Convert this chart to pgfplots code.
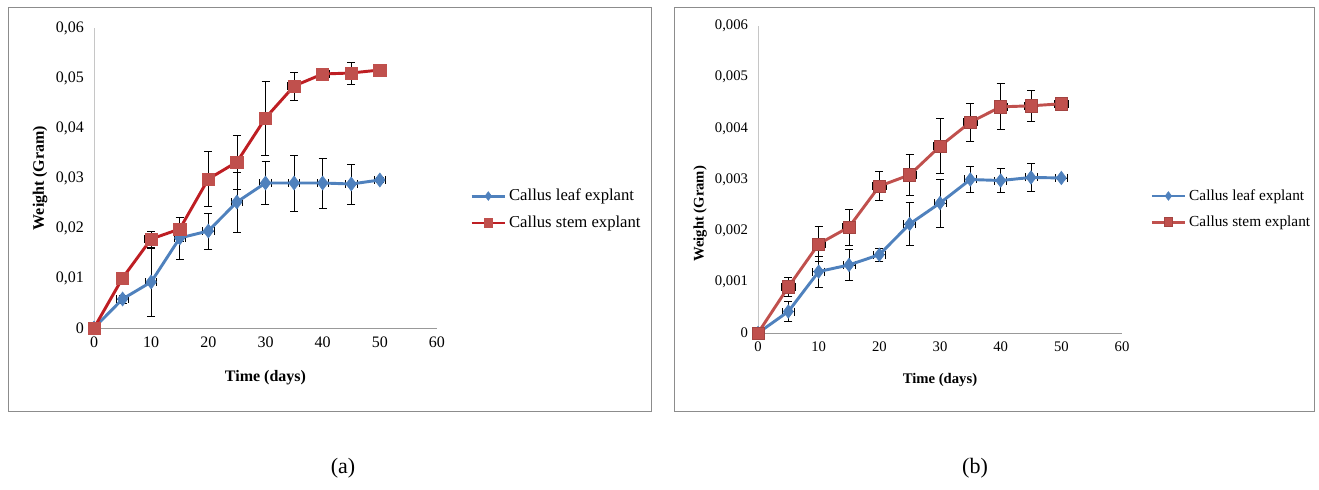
\documentclass[border=0pt]{standalone}
\usepackage{fontspec}
\setmainfont{Liberation Serif}
\usepackage{pgfplots}
\usepackage{pgfplotstable}
\pgfplotsset{compat=1.18}
\definecolor{xlblue}{HTML}{4F81BD}
\definecolor{xlred}{HTML}{C0504D}
\definecolor{xldred}{HTML}{BE1E23}
\definecolor{framegray}{HTML}{8C8C8C}

\pgfplotstableread{
x y ey ex
0 0 0 0
5 0.0058 0.0008 1
10 0.0092 0.0068 1
15 0.0180 0.0042 1
20 0.0194 0.0036 1
25 0.0252 0.0060 1
30 0.0290 0.0043 1
35 0.0290 0.0056 1
40 0.0290 0.0050 1
45 0.0288 0.0040 1
50 0.0296 0.0005 1
}\leafA
\pgfplotstableread{
x y ey ex
0 0 0 0
5 0.0100 0.0004 1.1
10 0.0178 0.0016 1.1
15 0.0198 0.0024 1.1
20 0.0298 0.0055 1.1
25 0.0332 0.0054 1.1
30 0.0420 0.0074 1.1
35 0.0484 0.0028 1.1
40 0.0508 0.0008 1.1
45 0.0510 0.0022 1.1
50 0.0516 0.0004 1.1
}\stemA
\pgfplotstableread{
x y ey ex
0 0 0 0
5 0.00042 0.00020 1
10 0.00120 0.00030 1
15 0.00133 0.00030 1
20 0.00153 0.00013 1
25 0.00213 0.00042 1
30 0.00254 0.00047 1
35 0.00300 0.00025 1
40 0.00298 0.00024 1
45 0.00304 0.00027 1
50 0.00303 0.00003 1
}\leafB
\pgfplotstableread{
x y ey ex
0 0 0 0
5 0.00090 0.00018 1.1
10 0.00174 0.00034 1.1
15 0.00207 0.00035 1.1
20 0.00287 0.00028 1.1
25 0.00309 0.00040 1.1
30 0.00365 0.00054 1.1
35 0.00412 0.00037 1.1
40 0.00442 0.00045 1.1
45 0.00444 0.00030 1.1
50 0.00448 0.00002 1.1
}\stemB

\pgfplotsset{
  xlaxis/.style={
    scale only axis,
    anchor=south west,
    xmin=0, xmax=60, ymin=0,
    scaled y ticks=false,
    scaled x ticks=false,
    xtick={0,10,20,30,40,50,60},
    xticklabels={0,10,20,30,40,50,60},
    axis x line*=bottom,
    axis y line*=left,
    x axis line style={draw=gray!80, line width=0.6pt, -},
    y axis line style={draw=gray!45, line width=0.6pt, -},
    major tick length=0pt,
    tick style={draw=none},
    clip=false,
    legend cell align=left,
    legend style={draw=none, fill=none, inner xsep=0pt, inner ysep=0pt, row sep=6pt, anchor=west},
    legend image code/.code={
      \draw[#1, mark size=3.2pt, mark repeat=2, mark phase=2] plot coordinates {(0pt,0pt) (12.5pt,0pt) (25pt,0pt)};
    },
  },
  ebars/.style={
    draw=none, mark=none, forget plot,
    error bars/.cd,
      y dir=both, y explicit,
      x dir=both, x explicit,
      error bar style={draw=black, line width=0.6pt},
      error mark options={rotate=90, draw=black, line width=0.6pt, mark size=3pt},
  },
}

\begin{document}
\begin{tikzpicture}
\path (0pt,0pt) rectangle (989.25pt,366.75pt);
\draw[framegray, line width=0.75pt] (6pt,58.5pt) rectangle (488.25pt,360.75pt);
\draw[framegray, line width=0.75pt] (505.5pt,58.5pt) rectangle (985.5pt,360.75pt);
\node[font=\fontsize{16.5}{19}\selectfont] at (257.25pt,15.75pt) {(a)};
\node[font=\fontsize{16.5}{19}\selectfont] at (731.25pt,15.75pt) {(b)};

% panel (a)
\begin{axis}[xlaxis,
  at={(70.5pt,120.75pt)},
  width=257.25pt, height=225pt,
  ymax=0.06,
  ytick={0,0.01,0.02,0.03,0.04,0.05,0.06},
  yticklabels={0,{0,01},{0,02},{0,03},{0,04},{0,05},{0,06}},
  tick label style={font=\fontsize{12}{14}\selectfont},
  yticklabel style={xshift=-4pt},
  xticklabel style={yshift=-3pt},
  every axis y label/.style={at={(axis description cs:-0.157,0.5)}, rotate=90, anchor=center, font=\bfseries\fontsize{12}{14}\selectfont},
  every axis x label/.style={at={(axis description cs:0.5,-0.167)}, anchor=center, font=\bfseries\fontsize{12}{14}\selectfont},
  ylabel={Weight (Gram)},
  xlabel={Time (days)},
  legend style={at={(axis description cs:1.096,0.395)}, font=\fontsize{12.5}{14}\selectfont},
]
\addplot[ebars] table[x=x, y=y, y error=ey, x error=ex] {\leafA};
\addplot[ebars] table[x=x, y=y, y error=ey, x error=ex] {\stemA};
\addplot[xlblue, line width=2.2pt, mark=diamond*, mark size=5.2pt,
  mark options={solid, fill=xlblue, draw=xlblue, line width=0.5pt}]
  table[x=x, y=y] {\leafA};
\addlegendentry{Callus leaf explant}
\addplot[xldred, line width=2.2pt, mark=square*, mark size=4.6pt,
  mark options={solid, fill=xlred, draw=xlred, line width=0.5pt}]
  table[x=x, y=y] {\stemA};
\addlegendentry{Callus stem explant}
\end{axis}

% panel (b)
\begin{axis}[xlaxis,
  at={(568.5pt,117pt)},
  width=273pt, height=230.25pt,
  ymax=0.006,
  ytick={0,0.001,0.002,0.003,0.004,0.005,0.006},
  yticklabels={0,{0,001},{0,002},{0,003},{0,004},{0,005},{0,006}},
  tick label style={font=\fontsize{11}{13}\selectfont},
  yticklabel style={xshift=-4pt},
  xticklabel style={yshift=-3pt},
  every axis y label/.style={at={(axis description cs:-0.159,0.388)}, rotate=90, anchor=center, font=\bfseries\fontsize{11}{13}\selectfont},
  every axis x label/.style={at={(axis description cs:0.5,-0.153)}, anchor=center, font=\bfseries\fontsize{11}{13}\selectfont},
  ylabel={Weight (Gram)},
  xlabel={Time (days)},
  legend style={at={(axis description cs:1.077,0.404)}, font=\fontsize{11.5}{13}\selectfont},
]
\addplot[ebars] table[x=x, y=y, y error=ey, x error=ex] {\leafB};
\addplot[ebars] table[x=x, y=y, y error=ey, x error=ex] {\stemB};
\addplot[xlblue, line width=2.2pt, mark=diamond*, mark size=5pt,
  mark options={solid, fill=xlblue, draw=xlblue, line width=0.5pt}]
  table[x=x, y=y] {\leafB};
\addlegendentry{Callus leaf explant}
\addplot[xlred, line width=2.2pt, mark=square*, mark size=4.6pt,
  mark options={solid, fill=xlred, draw=xlred!85!black, line width=0.5pt}]
  table[x=x, y=y] {\stemB};
\addlegendentry{Callus stem explant}
\end{axis}
\end{tikzpicture}
\end{document}
